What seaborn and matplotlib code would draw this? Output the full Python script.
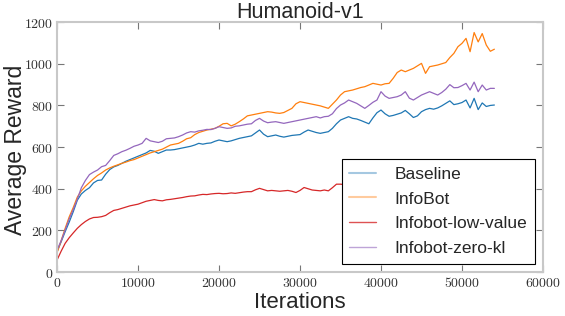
import numpy as np
import pandas as pd
import matplotlib
matplotlib.use("Agg")
import matplotlib.pyplot as plt
from matplotlib.lines import Line2D
from matplotlib.ticker import FuncFormatter, MultipleLocator
import seaborn as sns

iterations = list(range(0, 54001, 500))

baseline = [98, 145, 194, 240, 290, 345, 375, 392, 405, 428, 440, 442, 470, 492, 505, 512,
            522, 532, 540, 548, 556, 564, 572, 584, 580, 570, 578, 586, 586, 588, 592, 596,
            600, 604, 610, 618, 614, 618, 620, 628, 634, 630, 626, 630, 636, 642, 646, 650,
            654, 668, 682, 662, 650, 654, 658, 652, 648, 652, 656, 658, 660, 672, 682, 676,
            670, 666, 670, 674, 690, 712, 730, 738, 746, 738, 735, 728, 720, 712, 740, 765,
            778, 760, 748, 752, 758, 764, 776, 760, 742, 750, 770, 780, 786, 782, 788, 798,
            810, 822, 804, 808, 814, 826, 788, 834, 780, 812, 795, 800, 802]

infobot = [93, 150, 210, 265, 310, 360, 390, 412, 430, 448, 464, 476, 490, 500, 508, 515,
           522, 528, 535, 540, 548, 556, 564, 572, 578, 584, 590, 600, 610, 614, 618, 628,
           640, 645, 660, 670, 676, 682, 686, 690, 700, 712, 714, 702, 710, 722, 735, 750,
           754, 758, 762, 766, 770, 768, 764, 762, 766, 776, 786, 808, 818, 814, 810, 806,
           802, 798, 792, 786, 806, 826, 850, 866, 870, 874, 880, 886, 890, 898, 906, 902,
           898, 904, 906, 930, 958, 970, 962, 970, 978, 990, 1002, 954, 986, 990, 994, 1000,
           1006, 1030, 1050, 1082, 1098, 1122, 1058, 1150, 1105, 1145, 1090, 1060, 1070]

low_value = [58, 100, 138, 165, 188, 210, 228, 243, 255, 262, 263, 266, 272, 285, 296, 300,
             306, 312, 318, 322, 326, 333, 340, 344, 348, 344, 342, 347, 349, 352, 355, 358,
             362, 365, 366, 370, 373, 372, 375, 377, 378, 376, 377, 380, 378, 381, 384, 386,
             386, 395, 402, 396, 390, 392, 390, 388, 390, 392, 388, 382, 392, 406, 400, 394,
             392, 390, 394, 390, 405, 422, 422, 420, 424, 426, 422, 428, 430, 426, 432, 434,
             430, 436, 432, 438, 436, 440, 434, 438, 442, 440, 436, 442, 444, 440, 446, 442,
             444, 448, 444, 440, 446, 450, 444, 448, 446, 450, 446, 448, 450]

zero_kl = [106, 150, 202, 255, 300, 350, 405, 440, 468, 480, 490, 506, 512, 535, 560, 568,
           578, 585, 594, 604, 610, 618, 642, 630, 626, 622, 628, 640, 642, 644, 650, 658,
           668, 674, 672, 678, 681, 685, 684, 690, 698, 694, 690, 692, 700, 702, 706, 710,
           712, 728, 738, 725, 717, 720, 722, 718, 714, 718, 722, 726, 730, 734, 738, 742,
           746, 740, 746, 748, 760, 785, 802, 812, 826, 818, 810, 798, 786, 800, 815, 826,
           866, 845, 834, 838, 842, 850, 866, 835, 826, 838, 850, 858, 866, 858, 850, 862,
           878, 900, 885, 886, 895, 906, 874, 912, 866, 898, 874, 882, 882]

labels = ["Baseline", "InfoBot", "Infobot-low-value", "Infobot-zero-kl"]
colors = ["#1f77b4", "#ff7f0e", "#d62728", "#9467bd"]
series = [baseline, infobot, low_value, zero_kl]

rows = []
for lab, vals in zip(labels, series):
    for x, y in zip(iterations, vals):
        rows.append({"Iterations": x, "Average Reward": y, "method": lab})
df = pd.DataFrame(rows)

sns.set_style("white")
plt.rcParams["font.family"] = ["Liberation Sans", "DejaVu Sans"]
plt.rcParams["mathtext.fontset"] = "cm"

fig = plt.figure(figsize=(5.65, 3.16), dpi=100)
ax = fig.add_axes([0.101, 0.139, 0.860, 0.791])

sns.lineplot(data=df, x="Iterations", y="Average Reward", hue="method",
             hue_order=labels, palette=colors, linewidth=0.9, ax=ax, legend=False)

ax.set_xlim(0, 60000)
ax.set_ylim(0, 1200)
ax.xaxis.set_major_locator(MultipleLocator(10000))
ax.yaxis.set_major_locator(MultipleLocator(200))
fmt = FuncFormatter(lambda v, p: r"$%d$" % int(round(v)))
ax.xaxis.set_major_formatter(fmt)
ax.yaxis.set_major_formatter(fmt)
ax.tick_params(direction="in", bottom=True, left=True, top=True, right=True,
               length=5, width=0.8, color="#777777", labelsize=10,
               labelcolor="#333333", pad=3)

for sp in ax.spines.values():
    sp.set_color("#c8c8c8")
    sp.set_linewidth(1.5)

ax.set_title("Humanoid-v1", fontsize=15.5, pad=3)
ax.set_xlabel("Iterations", fontsize=16, labelpad=1)
ax.set_ylabel("Average Reward", fontsize=16.5)
ax.yaxis.set_label_coords(-0.062, 0.49)

handles = [
    Line2D([], [], color=colors[0], alpha=0.4, lw=1.5),
    Line2D([], [], color=colors[1], alpha=0.4, lw=1.5),
    Line2D([], [], color=colors[2], alpha=0.8, lw=1.0),
    Line2D([], [], color=colors[3], alpha=0.6, lw=1.0),
]
leg = ax.legend(handles, labels, loc="lower right", bbox_to_anchor=(0.984, 0.032),
                borderaxespad=0, fontsize=12.5, frameon=True, fancybox=False,
                handlelength=1.5, handletextpad=1.1, labelspacing=0.56,
                borderpad=0.45, framealpha=1)
leg.get_frame().set_edgecolor("black")
leg.get_frame().set_linewidth(0.8)

fig.savefig("out.png", dpi=100)
